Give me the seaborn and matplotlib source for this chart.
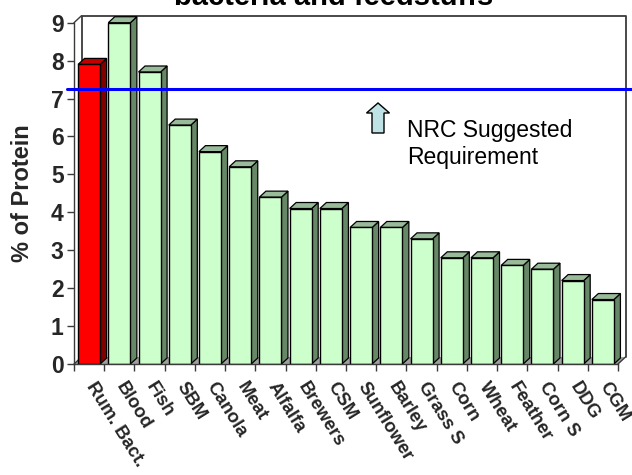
import numpy as np
import pandas as pd
import matplotlib
matplotlib.use("Agg")
import matplotlib.pyplot as plt
import seaborn as sns
from matplotlib import transforms
from matplotlib.patches import Polygon, FancyArrow
from matplotlib.lines import Line2D

# Lysine as % of protein in ruminal bacteria and common feedstuffs
feeds = ["Rum. Bact.", "Blood", "Fish", "SBM", "Canola", "Meat", "Alfalfa",
         "Brewers", "CSM", "Sunflower", "Barley", "Grass S", "Corn", "Wheat",
         "Feather", "Corn S", "DDG", "CGM"]
protein_pct = [7.9, 9.0, 7.7, 6.3, 5.6, 5.2, 4.4, 4.1, 4.1, 3.6, 3.6, 3.3,
               2.8, 2.8, 2.6, 2.5, 2.2, 1.7]
source = ["Bacteria"] + ["Feedstuff"] * 17
nrc_requirement = 7.25
y_ticks = list(range(0, 10))

front_col = {"Bacteria": "#FF0000", "Feedstuff": "#CCFFCC"}
side_col = {"Bacteria": "#800000", "Feedstuff": "#668866"}
top_col = {"Bacteria": "#C00000", "Feedstuff": "#99BB99"}

sns.set_theme(style="white")
plt.rcParams["font.family"] = ["Liberation Sans", "DejaVu Sans"]

W, H = 632, 475
fig = plt.figure(figsize=(W / 100, H / 100), dpi=100)
ax = fig.add_axes([74 / W, 111 / H, 544 / W, 341.3 / H])

df = pd.DataFrame({"feed": feeds, "pct": protein_pct, "source": source})
sns.barplot(data=df, x="feed", y="pct", hue="source", palette=front_col,
            dodge=False, width=0.73, saturation=1, edgecolor="black",
            linewidth=1, legend=False, ax=ax, zorder=3)

ax.set_xlim(-0.5, len(feeds) - 0.5)
ax.set_ylim(0, 9)
fig.canvas.draw()

# depth of the box walls and of the bars, in pixels
wdx, wdy = 7.5, 7.0
bdx, bdy = 6.5, 6.0
ident = transforms.IdentityTransform()
edge = "#3a3a3a"


def ax_px(x, y):
    return ax.transAxes.transform((x, y))


# floor, back wall and the depth edges of the box
fl, fr = ax_px(0, 0), ax_px(1, 0)
tl, tr = ax_px(0, 1), ax_px(1, 1)
wd = np.array([wdx, wdy])
ax.add_patch(Polygon([fl, fr, fr + wd, fl + wd], closed=True,
                     facecolor="#a0a0a0", edgecolor="none", transform=ident,
                     zorder=1, clip_on=False))
back = [fl + wd, tl + wd, tr + wd, fr + wd]
ax.add_line(Line2D([p[0] for p in back], [p[1] for p in back], color=edge,
                   lw=1.3, transform=ident, zorder=1.5, clip_on=False))
for p in (tl, fl, fr):
    ax.add_line(Line2D([p[0], p[0] + wdx], [p[1], p[1] + wdy], color=edge,
                       lw=1.0, transform=ident, zorder=1.5, clip_on=False))

# side and top faces of each bar
bd = np.array([bdx, bdy])
for patch, src in zip(ax.patches[:len(feeds)], source):
    x0, x1 = patch.get_x(), patch.get_x() + patch.get_width()
    h = patch.get_height()
    p10 = ax.transData.transform((x1, 0))
    p01 = ax.transData.transform((x0, h))
    p11 = ax.transData.transform((x1, h))
    ax.add_patch(Polygon([p10, p11, p11 + bd, p10 + bd], closed=True,
                         facecolor=side_col[src], edgecolor="black", lw=0.9,
                         transform=ident, zorder=2.6, clip_on=False))
    ax.add_patch(Polygon([p01, p11, p11 + bd, p01 + bd], closed=True,
                         facecolor=top_col[src], edgecolor="black", lw=0.9,
                         transform=ident, zorder=2.6, clip_on=False))

ax.set_facecolor("none")
for s in ("top", "right"):
    ax.spines[s].set_visible(False)
for s in ("left", "bottom"):
    ax.spines[s].set_color(edge)
    ax.spines[s].set_linewidth(1.0)
    ax.spines[s].set_zorder(4)

# boundary ticks on x, labels at category centres
n = len(feeds)
ax.set_xticks(np.arange(-0.5, n, 1.0))
ax.set_xticklabels([])
ax.set_xticks(np.arange(n), minor=True)
ax.set_xticklabels(feeds, minor=True, rotation=-58, ha="left", va="center",
                   rotation_mode="anchor", fontsize=13.3, fontweight="bold")
ax.tick_params(axis="x", which="major", direction="out", length=5,
               width=1, color=edge, bottom=True)
ax.tick_params(axis="x", which="minor", length=0, pad=14, bottom=True)
shift = transforms.ScaledTranslation(0.5 / 100, 0, fig.dpi_scale_trans)
for lab in ax.get_xticklabels(minor=True):
    lab.set_transform(lab.get_transform() + shift)

ax.set_yticks(y_ticks)
ax.set_yticklabels([str(v) for v in y_ticks], fontsize=16.5, fontweight="bold")
ax.tick_params(axis="y", direction="out", length=5, width=1, color=edge,
               pad=2.5, left=True)
ax.set_xlabel("")
ax.set_ylabel("% of Protein", fontsize=17, fontweight="bold")
ax.yaxis.set_label_coords((34 - 74) / 544, 0.5)

# NRC requirement line running past the plot to the right edge
blend = transforms.blended_transform_factory(fig.transFigure, ax.transData)
fig.add_artist(Line2D([67 / W, 1.0], [nrc_requirement, nrc_requirement],
                      color="#0000FF", lw=2.2, transform=blend, zorder=6))

arrow = FancyArrow(3.78, (H - 133) / 100, 0, 0.30, width=0.12,
                   head_width=0.23, head_length=0.10, length_includes_head=True,
                   facecolor="#BFE2E6", edgecolor="black", lw=1.0,
                   transform=fig.dpi_scale_trans, zorder=6)
fig.add_artist(arrow)
fig.text(407 / W, (H - 119) / H, "NRC Suggested\nRequirement", fontsize=16.5,
         ha="left", va="top", linespacing=1.2, color="black")

fig.text(334 / W, (H - 5) / H, "bacteria and feedstuffs", fontsize=21,
         fontweight="bold", ha="center", va="baseline", color="black")

fig.savefig("out.png", dpi=100, facecolor="white")
